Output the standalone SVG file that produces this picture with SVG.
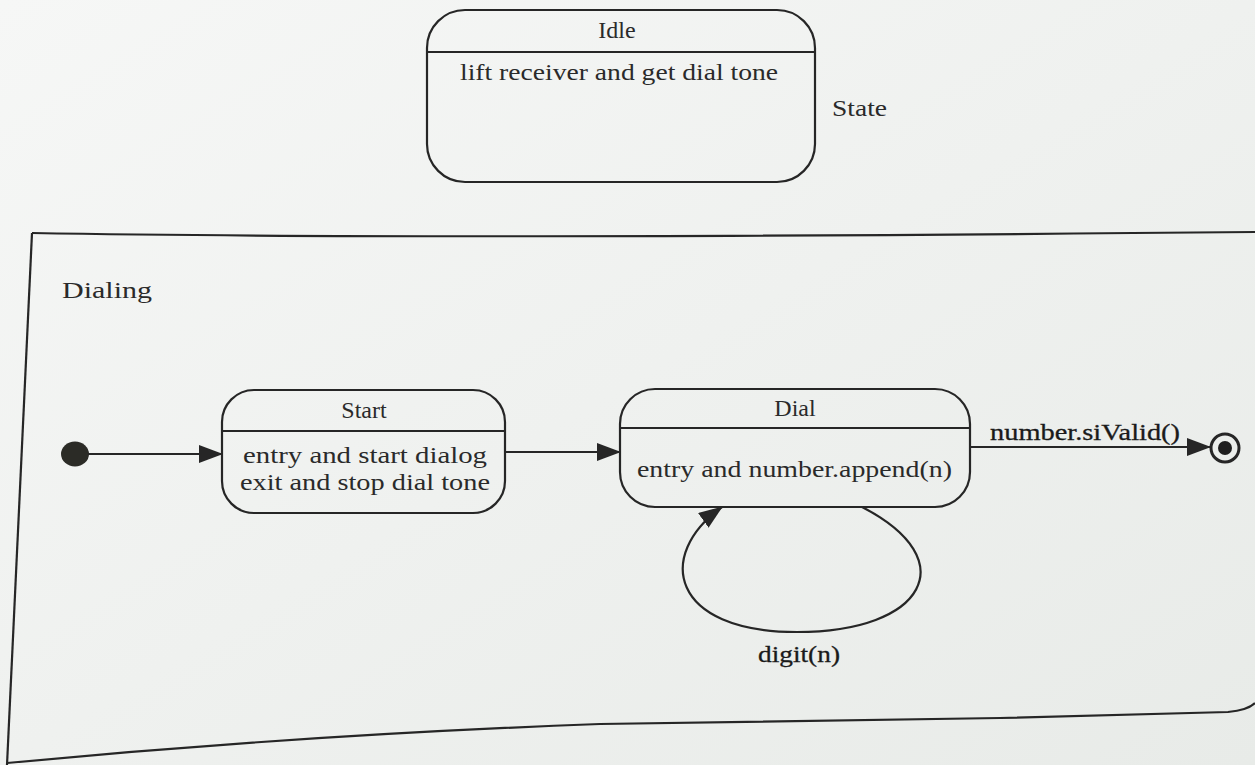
<svg xmlns="http://www.w3.org/2000/svg" width="1255" height="765" viewBox="0 0 1255 765">
  <style>
    .box { fill: none; stroke: #262626; stroke-width: 2.2; }
    .ln { fill: none; stroke: #262626; stroke-width: 2.2; }
    .txt { font-family: "Liberation Serif", "Times New Roman", serif; font-size: 24px; fill: #2a2a2a; }
    .mid { text-anchor: middle; }
    .lbl { font-family: "Liberation Serif", "Times New Roman", serif; font-size: 24px; fill: #1a1a1a; stroke: #1a1a1a; stroke-width: 0.3; }
  </style>
  <defs>
    <marker id="arrow" viewBox="0 0 24 18" refX="23" refY="9" markerWidth="24" markerHeight="18" markerUnits="userSpaceOnUse" orient="auto">
      <path d="M0,0 L24,9 L0,18 Z" fill="#262626"/>
    </marker>
    <linearGradient id="paper" x1="0" y1="0" x2="1" y2="1">
      <stop offset="0" stop-color="#f6f7f6"/>
      <stop offset="1" stop-color="#e8ebe8"/>
    </linearGradient>
  </defs>

  <rect width="1255" height="765" fill="url(#paper)"/>

  <!-- composite state frame -->
  <g id="dialing">
    <path class="ln" d="M32,233 Q420,240 1255,232"/>
    <path class="ln" d="M32,233 L7,765"/>
    <path class="ln" d="M7,763 Q300,735 600,724 L1000,718 L1228,712 Q1248,710 1255,703"/>
    <text class="txt" x="62" y="298" textLength="90" lengthAdjust="spacingAndGlyphs">Dialing</text>
  </g>

  <!-- top-level state -->
  <g id="idle">
    <rect class="box" x="427" y="10" width="388" height="172" rx="38"/>
    <line class="ln" x1="427" y1="52" x2="815" y2="52"/>
    <text class="txt mid" x="617" y="38">Idle</text>
    <text class="txt" x="460" y="80" textLength="318" lengthAdjust="spacingAndGlyphs">lift receiver and get dial tone</text>
  </g>
  <text class="txt" x="832" y="116" textLength="55" lengthAdjust="spacingAndGlyphs">State</text>

  <g id="initial">
    <ellipse cx="75" cy="454" rx="14" ry="12.5" fill="#2b2b26"/>
  </g>

  <g id="start">
    <rect class="box" x="222" y="390" width="283" height="123" rx="32"/>
    <line class="ln" x1="222" y1="431" x2="505" y2="431"/>
    <text class="txt mid" x="364" y="418">Start</text>
    <text class="txt" x="243" y="463" textLength="244" lengthAdjust="spacingAndGlyphs">entry and start dialog</text>
    <text class="txt" x="240" y="490" textLength="250" lengthAdjust="spacingAndGlyphs">exit and stop dial tone</text>
  </g>

  <g id="dial">
    <rect class="box" x="620" y="389" width="350" height="118" rx="35"/>
    <line class="ln" x1="620" y1="428" x2="970" y2="428"/>
    <text class="txt mid" x="795" y="416">Dial</text>
    <text class="txt" x="637" y="477" textLength="315" lengthAdjust="spacingAndGlyphs">entry and number.append(n)</text>
  </g>

  <g id="final">
    <circle cx="1225" cy="448" r="14" fill="none" stroke="#262626" stroke-width="3"/>
    <circle cx="1225" cy="448" r="7" fill="#1e1e1e"/>
  </g>

  <g id="connectors">
    <line class="ln" x1="88" y1="454" x2="222" y2="454" marker-end="url(#arrow)"/>
    <line class="ln" x1="505" y1="452" x2="620" y2="452" marker-end="url(#arrow)"/>
    <line class="ln" x1="970" y1="447" x2="1210" y2="447" marker-end="url(#arrow)"/>
    <text class="lbl" x="990" y="440" textLength="190" lengthAdjust="spacingAndGlyphs">number.siValid()</text>
    <path class="ln" d="M862,507 C965,560 925,632 797,632 C670,632 655,555 722,507" marker-end="url(#arrow)"/>
    <text class="lbl" x="758" y="662" textLength="82" lengthAdjust="spacingAndGlyphs">digit(n)</text>
  </g>
</svg>
